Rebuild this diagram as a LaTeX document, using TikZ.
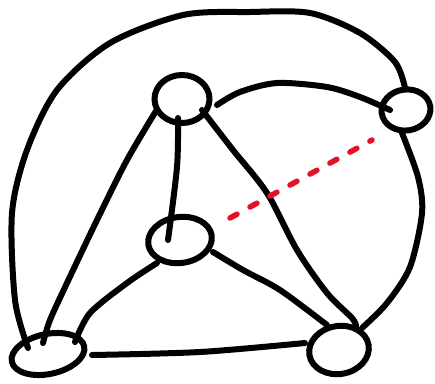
\documentclass[tikz,border=0pt]{standalone}
\usetikzlibrary{shapes.geometric}
\definecolor{penred}{RGB}{228,18,40}
\begin{document}
\begin{tikzpicture}[x=1pt,y=-1pt,
  vtx/.style={draw=black,line width=6pt,ellipse,inner sep=0pt},
  edge/.style={draw=black,line width=6pt,line cap=round,line join=round},
  hint/.style={draw=penred,line width=5.5pt,line cap=round,dash pattern=on 8pt off 14.8pt}]
\useasboundingbox (0,0) rectangle (435,383);
\node[vtx,minimum width=55pt,minimum height=48pt] (A) at (182,99) {};
\node[vtx,minimum width=49pt,minimum height=41pt,rotate=8] (B) at (406,110) {};
\node[vtx,minimum width=64pt,minimum height=46pt,rotate=8] (C) at (180,240) {};
\node[vtx,minimum width=74pt,minimum height=40pt,rotate=12] (D) at (48,354) {};
\node[vtx,minimum width=60pt,minimum height=48pt,rotate=10] (E) at (339,350) {};
% A--C
\draw[edge] plot[smooth] coordinates {([shift={(-4,19)}]A.center) (177,167) ([shift={(-12,0)}]C.center)};
% A--D
\draw[edge] plot[smooth] coordinates {([shift={(-26,12)}]A.center) (127,160) (97,220) (67,283) (50,320) ([shift={(-5,-11)}]D.center)};
% A--E
\draw[edge] plot[smooth] coordinates {([shift={(20,11)}]A.center) (233,150) (267,193) (297,250) (327,293) (352,318) ([shift={(17,-24)}]E.center)};
% A--B
\draw[edge] plot[smooth] coordinates {([shift={(35,6)}]A.center) (240,92) (277,83) (327,87) (360,97) ([shift={(-16,0)}]B.center)};
% D--B outer
\draw[edge] plot[smooth] coordinates {([shift={(-20,-6)}]D.center) (15,300) (12,213) (27,150) (57,90) (110,43) (183,15) (250,12) (310,13) (360,33) (395,62) ([shift={(-1,-22)}]B.center)};
% B--E
\draw[edge] plot[smooth] coordinates {([shift={(-4,23)}]B.center) (418,177) (422,213) (410,267) (387,303) ([shift={(23,-22)}]E.center)};
% C--D
\draw[edge] plot[smooth] coordinates {([shift={(-23,23)}]C.center) (127,283) (90,313) ([shift={(27,-12)}]D.center)};
% C--E
\draw[edge] plot[smooth] coordinates {([shift={(33,12)}]C.center) (243,270) (280,290) ([shift={(-12,-25)}]E.center)};
% D--E
\draw[edge] plot[smooth] coordinates {([shift={(44,1)}]D.center) (200,352) ([shift={(-34,-7)}]E.center)};
% red dashed C--B
\draw[hint] ([shift={(50,-22)}]C.center) -- ([shift={(-34,30)}]B.center);
\end{tikzpicture}
\end{document}
